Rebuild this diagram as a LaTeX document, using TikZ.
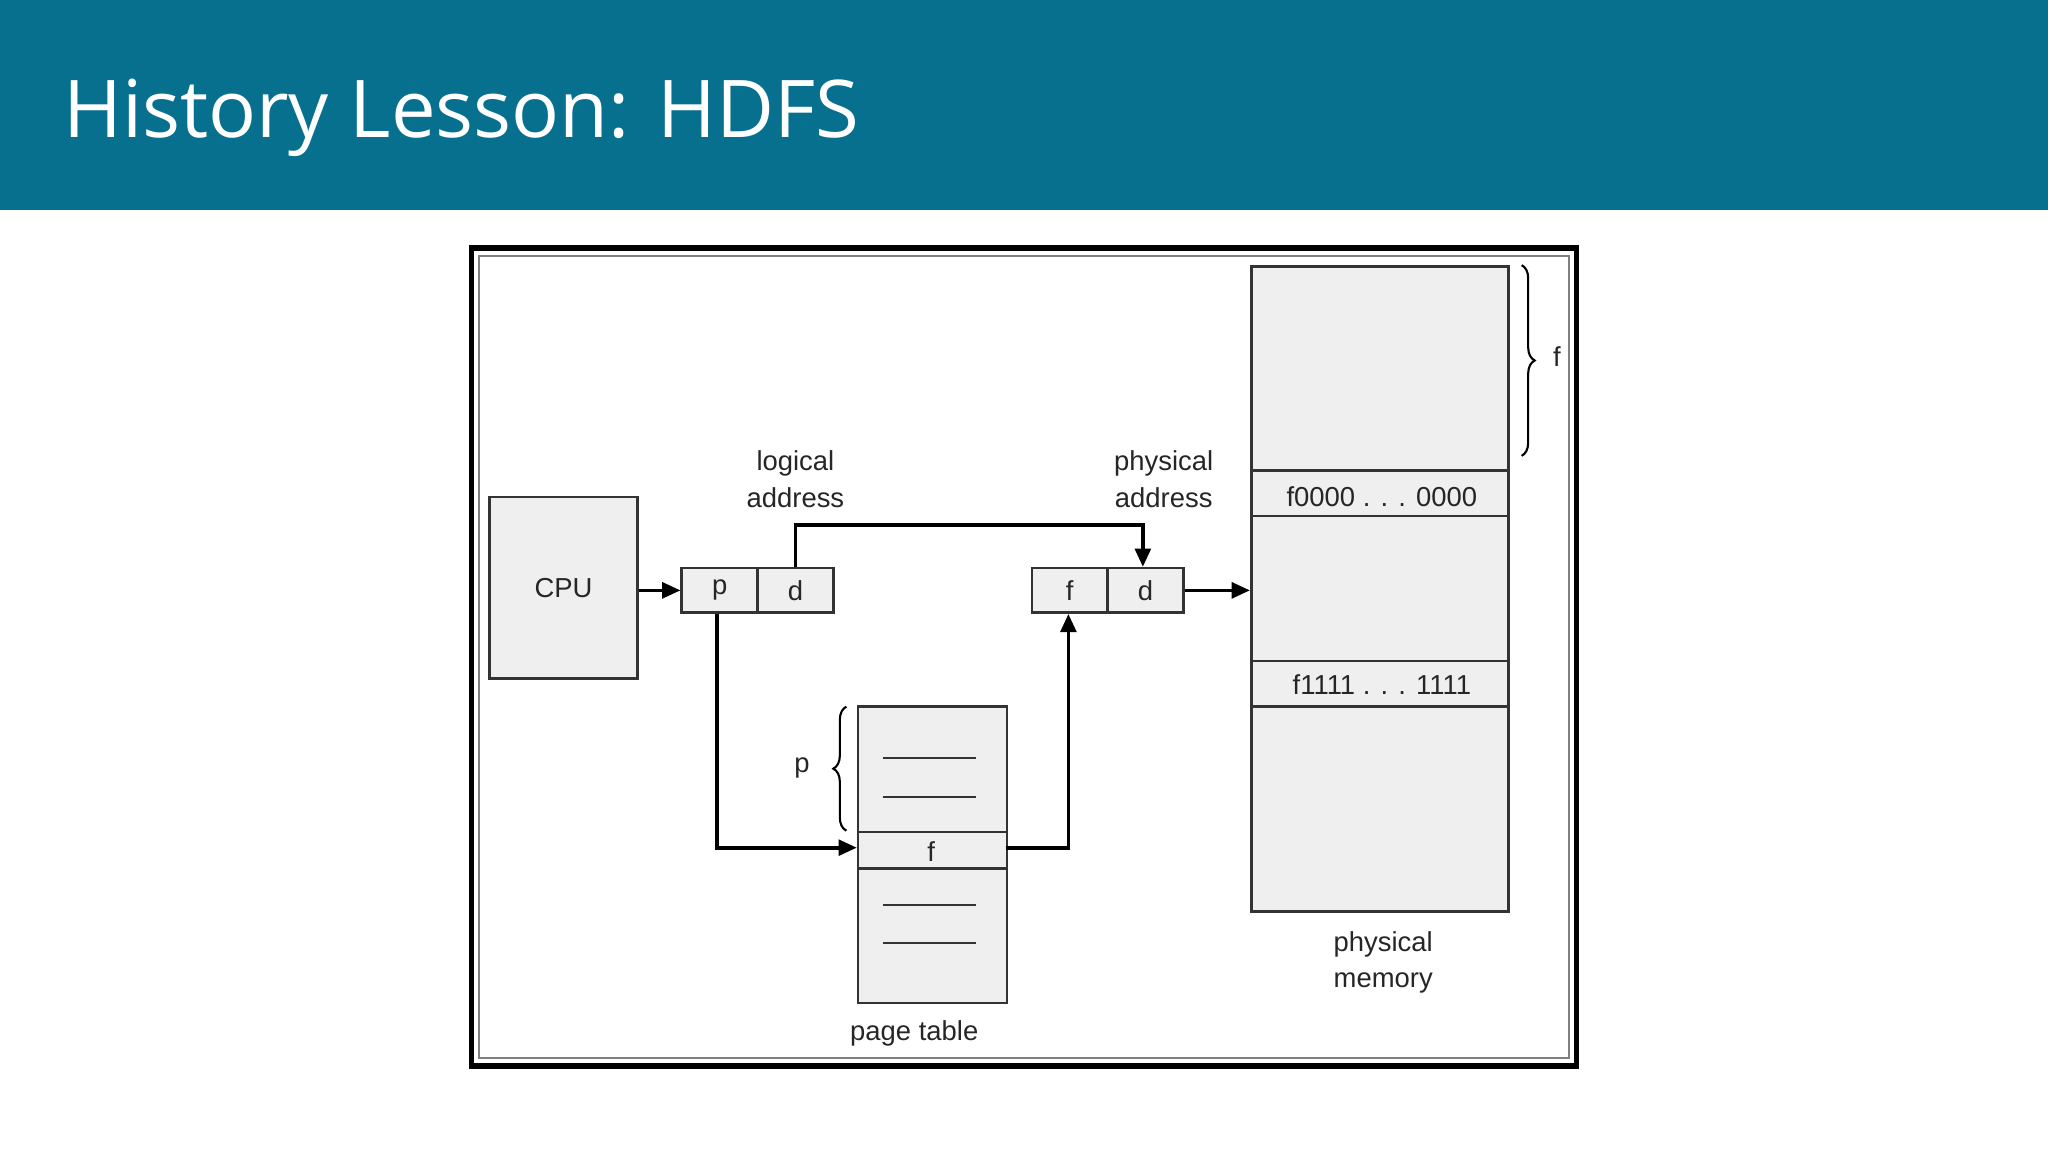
\documentclass[tikz,border=0pt]{standalone}
\usepackage{fontspec}
\setmainfont{Liberation Sans}
\newfontfamily\titlefont{Open Sans}
\usetikzlibrary{decorations.pathreplacing,arrows.meta}
\definecolor{bar}{HTML}{07708F}
\definecolor{boxfill}{HTML}{EFEFF0}
\begin{document}
\begin{tikzpicture}[x=0.5pt,y=-0.5pt,
  bx/.style={draw=black!80,line width=1pt,fill=boxfill},
  lbl/.style={font=\fontsize{10.5}{12}\selectfont,text=black!85},
  arr/.style={line width=1.4pt,-{Triangle[length=7pt,width=6pt]}},
  br/.style={decorate,decoration={brace,amplitude=5pt},line width=0.8pt}]
\useasboundingbox (0,0) rectangle (1568,882);
\fill[bar] (0,0) rectangle (1568,161);
\node[anchor=base west,text=white,font=\titlefont\fontsize{30.5}{34}\selectfont,inner sep=0] (title) at (48,105) {History Lesson: HDFS};
\draw[line width=2.2pt] (361,190) rectangle (1207,816);
\draw[black!50,line width=0.8pt] (367,196) rectangle (1201,810);
% CPU
\node[bx,minimum width=56.5pt,minimum height=69.5pt,lbl] (cpu) at (431.5,450) {CPU};
% logical address
\node[bx,minimum width=29pt,minimum height=17pt,lbl,inner sep=0] (p) at (551,452) {p};
\node[bx,minimum width=29pt,minimum height=17pt,lbl,inner sep=0] (d) at (609,452) {d};
\node[lbl,align=center] (la) at (609,367) {logical\\[2pt]address};
% physical address
\node[bx,minimum width=29pt,minimum height=17pt,lbl,inner sep=0] (pf) at (819,452) {f};
\node[bx,minimum width=29pt,minimum height=17pt,lbl,inner sep=0] (pd) at (877,452) {d};
\node[lbl,align=center] (pa) at (891,367) {physical\\[2pt]address};
% memory
\node[bx,minimum width=98.5pt,minimum height=247pt,anchor=north west] (mem) at (957,203) {};
\draw[black!80,line width=1pt] (957,360) -- (1154,360) (957,395) -- (1154,395) (957,506) -- (1154,506) (957,541) -- (1154,541);
\node[lbl] (m0) at (1058,380) {f0000 . . . 0000};
\node[lbl] (m1) at (1058,524) {f1111 . . . 1111};
\draw[br] (1165,203) -- (1165,349);
\node[lbl] (fl) at (1192,273) {f};
\node[lbl,align=center] (pm) at (1059,737) {physical\\[2pt]memory};
% page table
\node[bx,minimum width=57pt,minimum height=113.5pt,anchor=north west] (pt) at (656,540) {};
\draw[black!80,line width=1pt] (656,637) -- (770,637) (656,665) -- (770,665);
\coordinate (fr) at (770,649);
\node[lbl,inner sep=0] (ftxt) at (713,652) {f};
\draw[black!80,line width=0.8pt] (676,580) -- (747,580) (676,610) -- (747,610) (676,693) -- (747,693) (676,722) -- (747,722);
\draw[br] (648,636) -- (648,541);
\node[lbl] (plbl) at (614,588) {p};
\node[lbl] (ptl) at (700,791) {page table};
% arrows
\draw[arr] (cpu.east |- p.west) -- (p.west);
\draw[arr] (d.north) -- (609,402) -- (875,402) -- (pd.north -| 875,0);
\draw[arr] (p.south -| 549,0) -- (549,649) -- (656,649);
\draw[arr] (fr) -- (818,649) -- (pf.south -| 818,0);
\draw[arr] (pd.east) -- (957,452);
\end{tikzpicture}
\end{document}
